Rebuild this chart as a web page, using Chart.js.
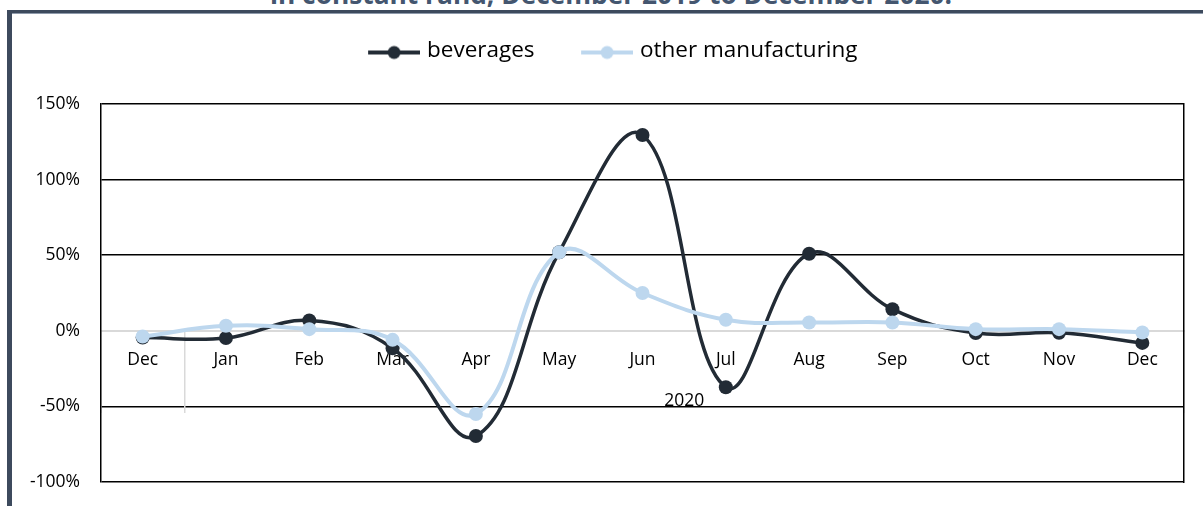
<!DOCTYPE html>
<html>
<head>
<meta charset="utf-8">
<title>Beverages vs other manufacturing, % change</title>
<script src="https://cdn.jsdelivr.net/npm/chart.js@4.4.1/dist/chart.umd.min.js"></script>
<style>
  html, body { margin: 0; padding: 0; background: #fff; overflow: hidden; }
  #wrap { position: relative; width: 1203px; height: 506px; overflow: hidden; }
  #frame {
    position: absolute; left: 7px; top: 10px; width: 1400px; height: 700px;
    border-left: 5px solid #3d4a5d; border-top: 3px solid #3d4a5d;
    box-shadow: inset 0 1px 0 #8e9aab;
  }
  #title {
    position: absolute; left: 0; top: -19px; width: 1222px; text-align: center;
    font: bold 26.3px/26px "Open Sans", sans-serif; color: #44566f; white-space: nowrap;
  }
  canvas { position: absolute; left: 0; top: 0; }
</style>
</head>
<body>
<div id="wrap">
  <div id="frame"></div>
  <div id="title">in constant rand, December 2019 to December 2020.</div>
  <canvas id="chart" width="1203" height="506"></canvas>
</div>
<script>
// Months from December 2019 to December 2020
const categories = ['Dec', 'Jan', 'Feb', 'Mar', 'Apr', 'May', 'Jun', 'Jul', 'Aug', 'Sep', 'Oct', 'Nov', 'Dec'];
const yearLabel = '2020';
const seriesNames = ['beverages', 'other manufacturing'];
// Year-on-year change, %
const beverages = [-4.5, -4.8, 6.8, -11.5, -69.6, 52, 129.5, -37.3, 51, 14.3, -1.5, -1.3, -8];
const otherManufacturing = [-3.8, 3.3, 1.1, -6, -55, 52, 25, 7.3, 5.5, 5.5, 1.1, 1.1, -1.1];
const yMin = -100, yMax = 150, yStep = 50;

const FONT = '"Open Sans", sans-serif';
const DARK = '#222b35';
const LIGHT = '#bdd7ee';
const W = 1203, H = 506;
const AXIS_FONT = 17.5;
const LEGEND_FONT = 22.5;

// Legend geometry: label start positions and marker placement
const labelStart = [427, 640];
const markerLen = 52, markerToLabel = 33, markerDrop = 2;
const legendMid = 50.5;
const plotTop = 104, plotLeft = 101, plotRight = 1184, plotBottom = 482;

const meas = document.createElement('canvas').getContext('2d');
meas.font = `${LEGEND_FONT}px ${FONT}`;
const tw = seriesNames.map(s => meas.measureText(s).width);
const half = LEGEND_FONT / 2;
let padLeft = 0;
let gap = W + padLeft - tw[0] - tw[1] - 2 * labelStart[0];
if (gap < 8) { padLeft = 8 - gap; gap = 8; }
const boxW = labelStart[1] - labelStart[0] - tw[0] - half - gap;
const shift = half + boxW / 2 - markerToLabel;
const padTop = legendMid - gap - half;
const spacer = plotTop - (padTop + gap + LEGEND_FONT + 10);

function marker(color) {
  const s = Math.abs(shift);
  const c = document.createElement('canvas');
  c.width = Math.round(markerLen + 2 * s);
  c.height = 30;
  const g = c.getContext('2d');
  const x0 = shift > 0 ? c.width - markerLen : 0;
  const y0 = 15 + markerDrop;
  g.strokeStyle = color; g.lineWidth = 4;
  g.beginPath(); g.moveTo(x0, y0); g.lineTo(x0 + markerLen, y0); g.stroke();
  g.fillStyle = color;
  g.beginPath(); g.arc(x0 + markerLen / 2, y0, 6.5, 0, Math.PI * 2); g.fill();
  return c;
}
const markers = [marker(DARK), marker(LIGHT)];

new Chart(document.getElementById('chart'), {
  type: 'line',
  data: {
    labels: categories,
    datasets: [
      {
        label: seriesNames[0], data: beverages, order: 2,
        xAxisID: 'x', yAxisID: 'y',
        borderColor: DARK, backgroundColor: DARK, borderWidth: 3.5,
        pointRadius: 7, pointBorderWidth: 0, pointBackgroundColor: DARK,
        tension: 0.4, fill: false
      },
      {
        label: seriesNames[1], data: otherManufacturing, order: 1,
        xAxisID: 'x', yAxisID: 'y',
        borderColor: LIGHT, backgroundColor: LIGHT, borderWidth: 4,
        pointRadius: 7, pointBorderWidth: 0, pointBackgroundColor: LIGHT,
        tension: 0.4, fill: false
      }
    ]
  },
  options: {
    responsive: false,
    animation: false,
    devicePixelRatio: 1,
    layout: { padding: { top: padTop, left: padLeft, right: 0, bottom: H - plotBottom } },
    plugins: {
      tooltip: { enabled: false },
      legend: {
        position: 'top',
        labels: {
          usePointStyle: true,
          pointStyleWidth: boxW,
          padding: gap,
          color: '#000',
          font: { family: FONT, size: LEGEND_FONT },
          generateLabels: chart => chart.data.datasets.map((ds, i) => ({
            text: ds.label,
            pointStyle: markers[i],
            fillStyle: ds.borderColor,
            strokeStyle: ds.borderColor,
            lineWidth: 0,
            fontColor: '#000',
            hidden: !chart.isDatasetVisible(i),
            datasetIndex: i
          }))
        }
      }
    },
    scales: {
      x: {
        type: 'category', position: { y: 0 }, offset: true,
        ticks: {
          autoSkip: false, maxRotation: 0, padding: 18.5, color: '#000',
          font: { family: FONT, size: AXIS_FONT }
        },
        grid: { display: false, drawTicks: false },
        border: { display: true, color: '#d9d9d9', width: 2 }
      },
      y: {
        type: 'linear', position: 'left',
        min: yMin, max: yMax,
        afterFit: s => { s.width = plotLeft - padLeft; s.paddingTop = 0; s.paddingBottom = 0; },
        ticks: {
          stepSize: yStep, padding: 21, color: '#000',
          font: { family: FONT, size: AXIS_FONT },
          callback: v => v + '%'
        },
        grid: {
          drawTicks: false, lineWidth: 1.5,
          color: c => (c.tick && c.tick.value === 0) ? 'rgba(0,0,0,0)' : '#000'
        },
        border: { display: true, color: '#000', width: 1.5 }
      },
      yR: {
        type: 'linear', position: 'right', axis: 'y',
        afterFit: s => { s.width = W - plotRight; s.paddingTop = 0; s.paddingBottom = 0; },
        ticks: { display: false },
        grid: { display: false, drawTicks: false },
        border: { display: true, color: '#000', width: 1.5 }
      },
      xs: {
        type: 'category', position: 'top', axis: 'x',
        afterFit: s => { s.height = spacer; },
        ticks: { display: false },
        grid: { display: false, drawTicks: false },
        border: { display: false }
      },
      xg: {
        type: 'linear', axis: 'x', position: { y: 0 },
        min: -0.5, max: categories.length - 0.5,
        afterBuildTicks: s => {
          s.ticks = [-0.5, 0.5, categories.length / 2, categories.length - 0.5].map(v => ({ value: v }));
        },
        ticks: {
          autoSkip: false, maxRotation: 0, padding: -22, color: '#000',
          font: { family: FONT, size: AXIS_FONT },
          callback: v => (v === categories.length / 2 ? yearLabel : '')
        },
        grid: {
          drawOnChartArea: false, drawTicks: true, tickLength: 82, lineWidth: 1.5,
          color: c => (c.tick && c.tick.value === categories.length / 2) ? 'rgba(0,0,0,0)' : '#d9d9d9'
        },
        border: { display: false }
      }
    }
  }
});
</script>
</body>
</html>
